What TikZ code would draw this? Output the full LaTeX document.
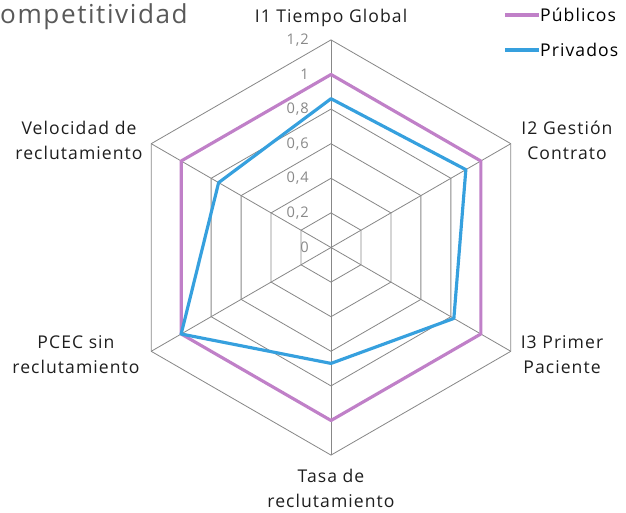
\documentclass[tikz,border=0pt]{standalone}
\usepackage{fontspec}
\setmainfont[LetterSpace=6]{Open Sans}
\usetikzlibrary{calc}
\definecolor{gridgray}{HTML}{888888}
\definecolor{publico}{HTML}{C080C8}
\definecolor{privado}{HTML}{36A0DE}
\definecolor{titlegray}{HTML}{595959}
\definecolor{labelblack}{HTML}{1E1E1E}
\def\unidad{173}
\tikzset{
	gridline/.style={line width=0.7pt, color=gridgray},
	serie/.style={line width=2.7pt, line join=round},
	axislabel/.style={font=\fontsize{15}{21.3}\selectfont, color=labelblack, align=center, inner sep=0pt},
	ticklabel/.style={font=\fontsize{12.5}{14}\selectfont, color=gridgray, anchor=east, inner sep=0pt},
	legendtext/.style={font=\fontsize{15}{18}\selectfont, color=black, anchor=west, inner sep=0pt}
}

\begin{document}
\begin{tikzpicture}[x=0.03cm, y=0.03cm]
		%%%%% START %%%%%
		\useasboundingbox (0,0) rectangle (626,512);
		
		\node[font=\fontsize{22.3}{26}\selectfont, color=titlegray, anchor=west, inner sep=0pt] (titulo) at (0,495) {ompetitividad};
		
		\begin{scope}[shift={(331,264.5)}]
			% rejilla
			\foreach \r in {1,...,6}
				\draw[gridline] (90:{34.6*\r}) \foreach \a in {30,-30,-90,-150,150} {-- (\a:{34.6*\r})} -- cycle;
			\foreach \a in {90,30,-30,-90,-150,150}
				\draw[gridline] (0,0) -- (\a:207.6);
			
			% escala
			\node[ticklabel] (t0) at (-22,0) {0};
			\node[ticklabel] (t1) at (-22,34.6) {0,2};
			\node[ticklabel] (t2) at (-22,69.2) {0,4};
			\node[ticklabel] (t3) at (-22,103.8) {0,6};
			\node[ticklabel] (t4) at (-22,138.4) {0,8};
			\node[ticklabel] (t5) at (-22,173) {1};
			\node[ticklabel] (t6) at (-22,207.6) {1,2};
			
			% series
			\draw[serie, publico] (90:\unidad) -- (30:\unidad) -- (-30:\unidad) -- (-90:\unidad) -- (-150:\unidad) -- (150:\unidad) -- cycle;
			\draw[serie, privado] (90:{0.86*\unidad}) -- (30:{0.90*\unidad}) -- (-30:{0.82*\unidad}) -- (-90:{0.67*\unidad}) -- (-150:{1.0*\unidad}) -- (150:{0.75*\unidad}) -- cycle;
		\end{scope}
		
		% ejes
		\node[axislabel] (i1) at (331,494) {I1 Tiempo Global};
		\node[axislabel] (i2) at (567,372) {I2 Gestión\\Contrato};
		\node[axislabel] (i3) at (562,157) {I3 Primer\\Paciente};
		\node[axislabel] (tasa) at (331,24) {Tasa de\\reclutamiento};
		\node[axislabel] (pcec) at (76,157) {PCEC sin\\reclutamiento};
		\node[axislabel] (veloc) at (79,372) {Velocidad de\\reclutamiento};
		
		% leyenda
		\coordinate (pub-a) at (505,497);
		\coordinate (pub-b) at (539,497);
		\coordinate (pri-a) at (505,462);
		\coordinate (pri-b) at (539,462);
		\draw[serie, publico] (pub-a) -- (pub-b);
		\draw[serie, privado] (pri-a) -- (pri-b);
		\node[legendtext] (pub) at (540,497) {Públicos};
		\node[legendtext] (pri) at (540,462) {Privados};
		
		%%%%% END %%%%%
\end{tikzpicture}
\end{document}
